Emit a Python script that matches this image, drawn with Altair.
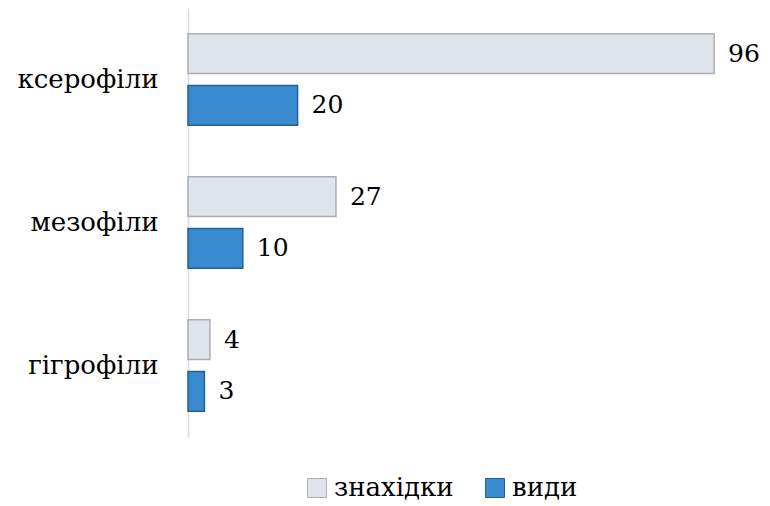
import altair as alt
import pandas as pd

categories = ["ксерофіли", "мезофіли", "гігрофіли"]
series = ["знахідки", "види"]
znakhidky = [96, 27, 4]
vydy = [20, 10, 3]

rows = []
for c, a, b in zip(categories, znakhidky, vydy):
    rows.append({"category": c, "series": series[0], "value": a})
    rows.append({"category": c, "series": series[1], "value": b})
df = pd.DataFrame(rows)

FONT = "DejaVu Serif"

y_enc = alt.Y("category:N", sort=categories, title=None,
              scale=alt.Scale(paddingInner=0.36, paddingOuter=0.18),
              axis=alt.Axis(ticks=False, labelFontSize=26, labelFont=FONT,
                            labelColor="#000000", labelPadding=30,
                            domainColor="#d9d9d9", domainWidth=1.5))
yoff = alt.YOffset("series:N", sort=series, scale=alt.Scale(paddingInner=0.23))
x_enc = alt.X("value:Q", scale=alt.Scale(domain=[0, 100]), axis=None)

bars = alt.Chart(df).mark_bar(strokeWidth=1.5).encode(
    y=y_enc, yOffset=yoff, x=x_enc,
    color=alt.Color("series:N", sort=series,
                    scale=alt.Scale(domain=series, range=["#dfe4ec", "#3a8ad0"]),
                    legend=alt.Legend(title=None, orient="none", direction="horizontal",
                                      legendX=116, legendY=467,
                                      labelFont=FONT, labelFontSize=26, labelColor="#000000",
                                      symbolType="square", symbolSize=360,
                                      symbolStrokeWidth=1, labelOffset=4,
                                      columnPadding=28)),
    stroke=alt.Stroke("series:N", sort=series,
                      scale=alt.Scale(domain=series, range=["#a9afb8", "#22609c"]),
                      legend=None),
)

labels = alt.Chart(df).mark_text(align="left", baseline="middle", dx=14,
                                 fontSize=25, font=FONT, color="#000000").encode(
    y=alt.Y("category:N", sort=categories), yOffset=alt.YOffset("series:N", sort=series),
    x="value:Q", text="value:Q")

chart = alt.layer(bars, labels).properties(
    width=548, height=429,
    autosize=alt.AutoSizeParams(type="none"),
    padding={"left": 180, "top": 0, "right": 26, "bottom": 66},
).configure(background="#ffffff", font=FONT).configure_view(stroke=None)

chart.save("out.html", embed_options={"renderer": "svg", "actions": False})
